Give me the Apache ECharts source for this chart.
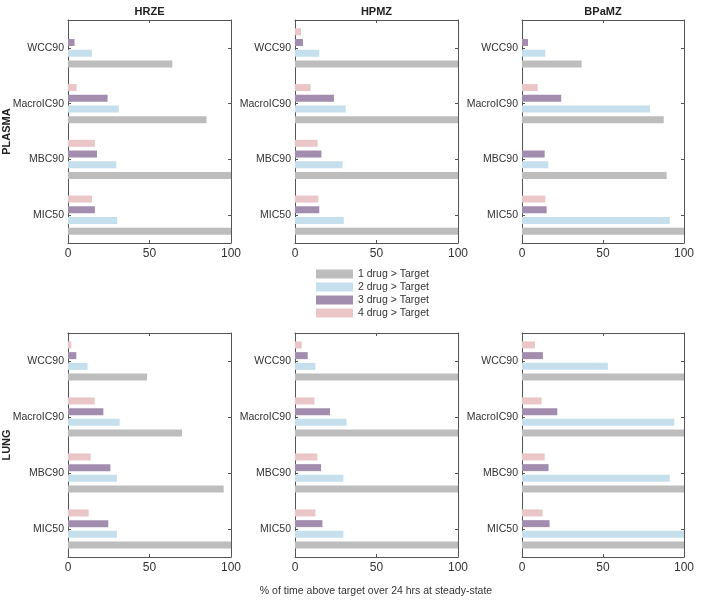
<!DOCTYPE html>
<html><head><meta charset="utf-8">
<script src="https://cdn.jsdelivr.net/npm/echarts@6/dist/echarts.min.js"></script>
<style>html,body{margin:0;padding:0;background:#fff}#c{width:702px;height:608px}</style>
</head><body><div id="c"></div>
<script>
const categories = ['MIC50', 'MBC90', 'MacroIC90', 'WCC90'];
const regimens = ['HRZE', 'HPMZ', 'BPaMZ'];
const rows = ['PLASMA', 'LUNG'];
const seriesNames = ['1 drug > Target', '2 drug > Target', '3 drug > Target', '4 drug > Target'];
const xTicks = [0, 50, 100];

// values per category order [MIC50, MBC90, MacroIC90, WCC90]
const plasmaHRZE_1 = [100, 100, 85, 64];
const plasmaHRZE_2 = [30.2, 29.6, 31.2, 14.7];
const plasmaHRZE_3 = [16.5, 17.8, 24.3, 4];
const plasmaHRZE_4 = [14.7, 16.5, 5.3, 0];

const plasmaHPMZ_1 = [100, 100, 100, 100];
const plasmaHPMZ_2 = [29.9, 29.2, 31.1, 14.9];
const plasmaHPMZ_3 = [14.9, 16.2, 23.9, 4.9];
const plasmaHPMZ_4 = [14.3, 13.9, 9.6, 3.7];

const plasmaBPaMZ_1 = [100, 89.3, 87.5, 36.8];
const plasmaBPaMZ_2 = [91.2, 16.2, 79, 14.4];
const plasmaBPaMZ_3 = [15.2, 14, 24.2, 3.7];
const plasmaBPaMZ_4 = [14.4, 0, 9.7, 0];

const lungHRZE_1 = [100, 95.5, 70, 48.5];
const lungHRZE_2 = [30, 30, 31.7, 12];
const lungHRZE_3 = [24.7, 26, 21.7, 5.1];
const lungHRZE_4 = [12.7, 13.9, 16.4, 2];

const lungHPMZ_1 = [100, 100, 100, 100];
const lungHPMZ_2 = [29.7, 29.7, 31.6, 12.5];
const lungHPMZ_3 = [16.8, 16, 21.5, 7.8];
const lungHPMZ_4 = [12.5, 13.7, 11.9, 4.1];

const lungBPaMZ_1 = [100, 100, 100, 100];
const lungBPaMZ_2 = [100, 91.2, 94, 53];
const lungBPaMZ_3 = [17, 16.4, 21.8, 12.9];
const lungBPaMZ_4 = [12.7, 14, 12.1, 8];

const panelData = [
  [plasmaHRZE_1, plasmaHRZE_2, plasmaHRZE_3, plasmaHRZE_4],
  [plasmaHPMZ_1, plasmaHPMZ_2, plasmaHPMZ_3, plasmaHPMZ_4],
  [plasmaBPaMZ_1, plasmaBPaMZ_2, plasmaBPaMZ_3, plasmaBPaMZ_4],
  [lungHRZE_1, lungHRZE_2, lungHRZE_3, lungHRZE_4],
  [lungHPMZ_1, lungHPMZ_2, lungHPMZ_3, lungHPMZ_4],
  [lungBPaMZ_1, lungBPaMZ_2, lungBPaMZ_3, lungBPaMZ_4]
];

const colors = ['#bdbdbd', '#c6dfec', '#a38dae', '#ebc6c9'];
const font = 'Liberation Sans, Arial, sans-serif';
const axisColor = '#555';
const textColor = '#333';

const lefts = [68, 295, 522];
const widths = [163, 163, 162];
const tops = [20, 333];
const heights = [223, 224];

const grid = [], xAxis = [], yAxis = [], series = [], graphic = [];
for (let r = 0; r < 2; r++) {
  for (let c = 0; c < 3; c++) {
    const gi = r * 3 + c;
    grid.push({left: lefts[c], top: tops[r], width: widths[c], height: heights[r], containLabel: false});
    const baseX = {
      type: 'value', gridIndex: gi, min: 0, max: 100, interval: 50,
      axisLine: {show: true, onZero: false, lineStyle: {color: axisColor, width: 1}},
      axisTick: {show: true, inside: true, length: 3, lineStyle: {color: axisColor}},
      splitLine: {show: false}
    };
    xAxis.push(Object.assign({}, baseX, {
      position: 'bottom',
      axisLabel: {show: true, color: textColor, fontSize: 12, fontFamily: font, margin: 5,
        formatter: v => xTicks.includes(v) ? String(v) : ''}
    }));
    xAxis.push(Object.assign({}, baseX, {position: 'top', axisLabel: {show: false}}));
    const baseY = {
      type: 'category', gridIndex: gi, data: categories,
      axisLine: {show: true, onZero: false, lineStyle: {color: axisColor, width: 1}},
      axisTick: {show: true, inside: true, length: 3, alignWithLabel: true, lineStyle: {color: axisColor}}
    };
    yAxis.push(Object.assign({}, baseY, {
      position: 'left',
      axisLabel: {show: true, color: textColor, fontSize: 10.5, fontFamily: font, margin: 4}
    }));
    yAxis.push(Object.assign({}, baseY, {position: 'right', axisLabel: {show: false}}));
    // draw top-to-bottom order: 4 drug first (top), 1 drug last (bottom)
    for (let s = 3; s >= 0; s--) {
      series.push({
        type: 'bar', name: seriesNames[s],
        xAxisIndex: gi * 2, yAxisIndex: gi * 2,
        data: panelData[gi][s],
        barWidth: 7, barGap: '53%',
        itemStyle: {color: colors[s]},
        silent: true, animation: false
      });
    }
    if (r === 0) {
      graphic.push({type: 'text', x: lefts[c] + widths[c] / 2, y: 12,
        style: {text: regimens[c], fill: '#222', font: 'bold 11px ' + font, align: 'center', verticalAlign: 'middle'}});
    }
  }
  graphic.push({type: 'text', x: 7, y: tops[r] + heights[r] / 2, rotation: Math.PI / 2,
    style: {text: rows[r], fill: '#222', font: 'bold 11px ' + font, align: 'center', verticalAlign: 'middle'}});
}
graphic.push({type: 'text', x: 376, y: 591,
  style: {text: '% of time above target over 24 hrs at steady-state', fill: textColor, font: '10.5px ' + font, align: 'center', verticalAlign: 'middle'}});

const option = {
  animation: false,
  grid, xAxis, yAxis, series, graphic,
  legend: {
    show: true, orient: 'vertical', left: 316, top: 268, padding: 0,
    itemWidth: 37, itemHeight: 9, itemGap: 1,
    data: seriesNames.map(n => ({name: n, icon: 'rect'})),
    textStyle: {color: textColor, fontSize: 10.5, lineHeight: 12, fontFamily: font},
    selectedMode: false
  }
};
const chart = echarts.init(document.getElementById('c'), null, {renderer: 'canvas'});
chart.setOption(option);
</script>
</body></html>
